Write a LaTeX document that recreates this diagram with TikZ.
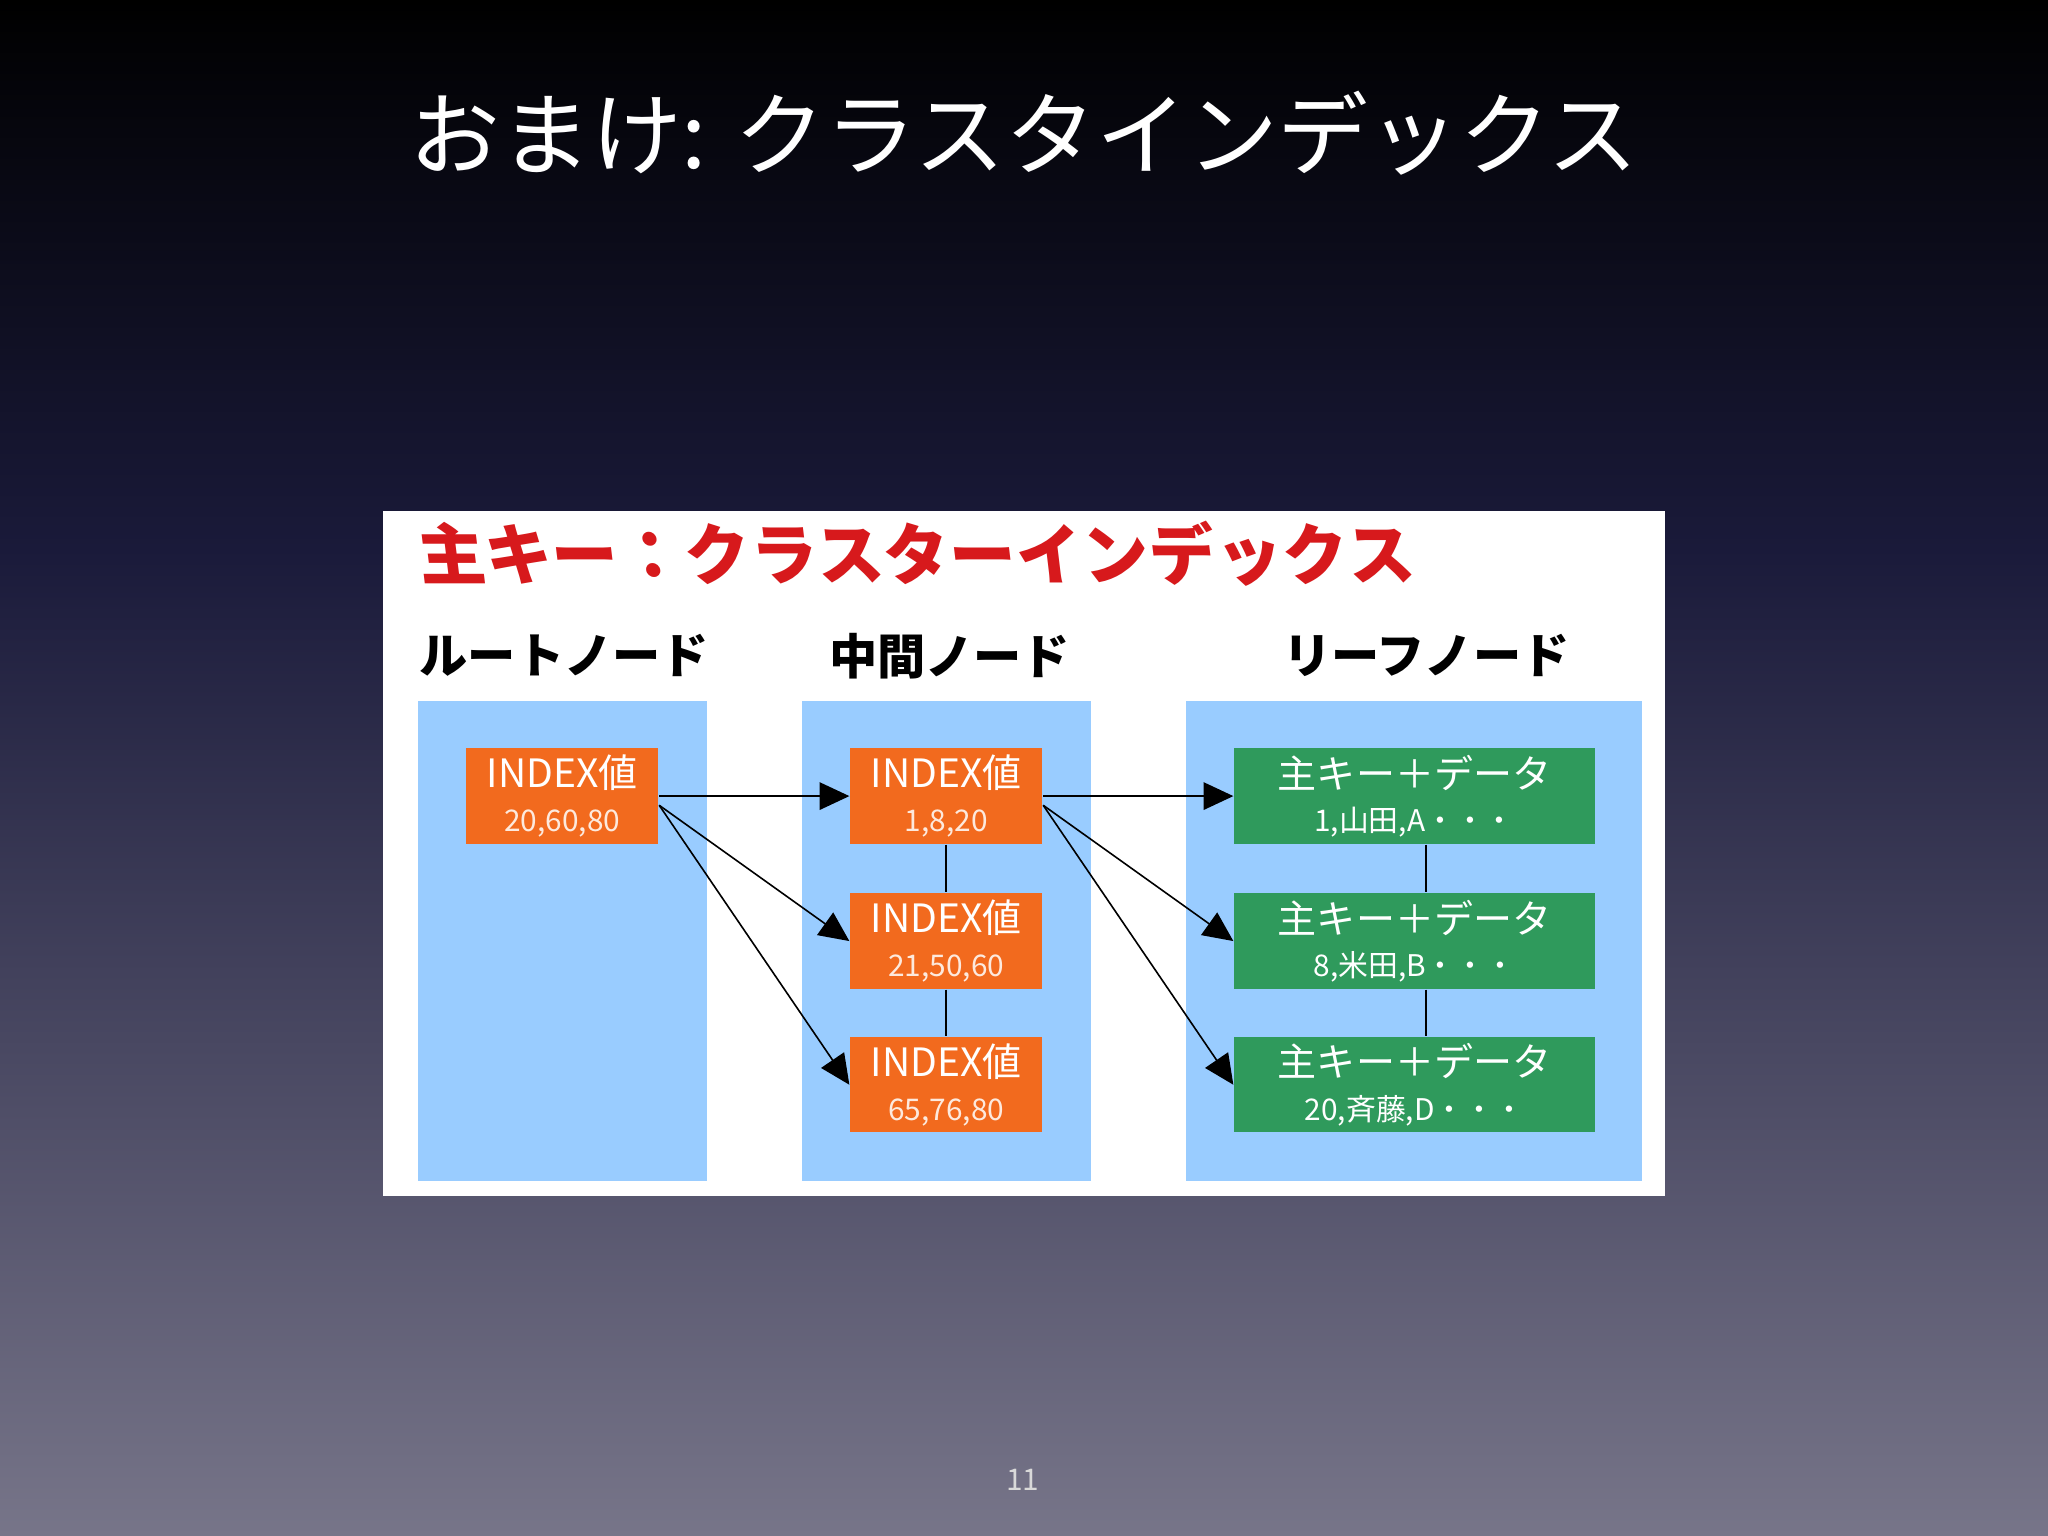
\documentclass[tikz,border=0pt]{standalone}
\usepackage{fontspec}
\setmainfont{Noto Sans CJK JP}
\usetikzlibrary{arrows.meta}
\definecolor{colbg}{HTML}{99CCFF}
\definecolor{orng}{HTML}{F26A1E}
\definecolor{grn}{HTML}{2F9A5C}
\definecolor{ttlred}{HTML}{D7191C}
\definecolor{botc}{HTML}{777589}
\definecolor{midc}{HTML}{1A1A3A}
\tikzset{
 col/.style={fill=colbg,draw=none},
 obox/.style={fill=orng,draw=none,minimum width=14.7mm,minimum height=7.3mm,inner sep=0pt,text=white,align=center,font=\fontsize{8.5pt}{10.5pt}\selectfont},
 gbox/.style={fill=grn,draw=none,minimum width=27.6mm,minimum height=7.3mm,inner sep=0pt,text=white,align=center,font=\fontsize{8.5pt}{10.5pt}\selectfont},
 hdr/.style={font=\fontsize{10.5pt}{12pt}\selectfont\bfseries},
 arr/.style={-{Triangle[length=6.5pt,width=6pt]},line width=0.35pt},
 lnk/.style={line width=0.4pt}
}
\begin{document}
\begin{tikzpicture}[x=0.1mm,y=-0.1mm]
\useasboundingbox (0,0) rectangle (1568,1176);
\shade[top color=black,bottom color=midc] (0,0) rectangle (1568,420);
\shade[top color=midc,bottom color=botc] (0,420) rectangle (1568,1176);
\node[text=white,font=\fontsize{19.8pt}{21pt}\selectfont] (title) at (784,102) {おまけ: クラスタインデックス};
\node[text=white!85!black,font=\fontsize{6.5pt}{8pt}\selectfont] (pg) at (783,1133) {11};
\fill[white] (293,391) rectangle (1275,916);
\node[anchor=west,text=ttlred,font=\fontsize{14.5pt}{16pt}\selectfont\bfseries,xslant=-0.12] (rt) at (308,424) {主キー：クラスターインデックス};
\node[hdr] (h1) at (432,502) {ルートノード};
\node[hdr] (h2) at (727,502) {中間ノード};
\node[hdr] (h3) at (1092,502) {リーフノード};
\fill[col] (320,537) rectangle (541,904);
\fill[col] (614,537) rectangle (835,904);
\fill[col] (908,537) rectangle (1257,904);
\node[obox] (r) at (430.5,609.5) {INDEX値\\[-1pt]{\fontsize{6.5pt}{8pt}\selectfont\color{white!85!orng}20,60,80}};
\node[obox] (m1) at (724.5,609.5) {INDEX値\\[-1pt]{\fontsize{6.5pt}{8pt}\selectfont\color{white!85!orng}1,8,20}};
\node[obox] (m2) at (724.5,720.5) {INDEX値\\[-1pt]{\fontsize{6.5pt}{8pt}\selectfont\color{white!85!orng}21,50,60}};
\node[obox] (m3) at (724.5,830.5) {INDEX値\\[-1pt]{\fontsize{6.5pt}{8pt}\selectfont\color{white!85!orng}65,76,80}};
\node[gbox] (l1) at (1083,609.5) {主キー＋データ\\[-1pt]{\fontsize{6.5pt}{8pt}\selectfont 1,山田,A・・・}};
\node[gbox] (l2) at (1083,720.5) {主キー＋データ\\[-1pt]{\fontsize{6.5pt}{8pt}\selectfont 8,米田,B・・・}};
\node[gbox] (l3) at (1083,830.5) {主キー＋データ\\[-1pt]{\fontsize{6.5pt}{8pt}\selectfont 20,斉藤,D・・・}};
\draw[lnk] (m1) -- (m2) (m2) -- (m3);
\draw[lnk] (l1.south -| 1092,0) -- (l2.north -| 1092,0) (l2.south -| 1092,0) -- (l3.north -| 1092,0);
\draw[arr] (r.east) -- (m1.west);
\draw[arr] ([yshift=-2]r.east) -- (m2.west);
\draw[arr] ([yshift=-2]r.east) -- (m3.west);
\draw[arr] (m1.east) -- (l1.west);
\draw[arr] ([yshift=-2]m1.east) -- (l2.west);
\draw[arr] ([yshift=-2]m1.east) -- (l3.west);
\end{tikzpicture}
\end{document}
